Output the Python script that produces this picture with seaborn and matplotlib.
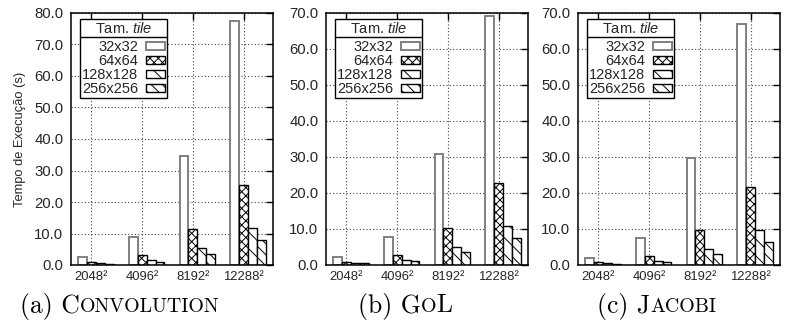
import matplotlib
matplotlib.use("Agg")
import matplotlib.pyplot as plt
import seaborn as sns
import pandas as pd
import numpy as np
from matplotlib.patches import Patch
from matplotlib.lines import Line2D
from matplotlib.ticker import FormatStrFormatter
from matplotlib.offsetbox import TextArea, HPacker, AnnotationBbox

# Data
sizes = ["2048²", "4096²", "8192²", "12288²"]
tiles = ["32x32", "64x64", "128x128", "256x256"]

conv_32 = [2.4, 8.8, 34.6, 77.5]
conv_64 = [1.0, 3.1, 11.5, 25.5]
conv_128 = [0.7, 1.5, 5.3, 11.6]
conv_256 = [0.4, 1.1, 3.6, 7.9]

gol_32 = [2.1, 7.8, 30.9, 69.2]
gol_64 = [0.8, 2.7, 10.3, 22.8]
gol_128 = [0.6, 1.4, 4.9, 10.8]
gol_256 = [0.5, 1.0, 3.5, 7.4]

jac_32 = [2.0, 7.6, 29.8, 66.9]
jac_64 = [0.75, 2.5, 9.8, 21.6]
jac_128 = [0.55, 1.2, 4.4, 9.7]
jac_256 = [0.4, 0.95, 3.1, 6.4]

panels = ["Convolution", "GoL", "Jacobi"]
ymax = [80, 70, 70]

series = {
    "Convolution": [conv_32, conv_64, conv_128, conv_256],
    "GoL": [gol_32, gol_64, gol_128, gol_256],
    "Jacobi": [jac_32, jac_64, jac_128, jac_256],
}

rows = []
for p in panels:
    for tile, vals in zip(tiles, series[p]):
        for s, v in zip(sizes, vals):
            rows.append({"panel": p, "size": s, "tile": tile, "time": v})
df = pd.DataFrame(rows)

# styles for each tile size
hatches = ["", "xxxx", "\\\\", "\\\\\\"]
edges = ["#808080", "black", "black", "black"]
edge_lw = [1.4, 1.0, 1.0, 1.0]

sns.set_style("white")
plt.rcParams["font.family"] = ["Liberation Sans", "DejaVu Sans"]
plt.rcParams["mathtext.fontset"] = "custom"
plt.rcParams["mathtext.it"] = "Liberation Sans:italic"
plt.rcParams["mathtext.rm"] = "Liberation Sans"
plt.rcParams["hatch.linewidth"] = 0.7

fig = plt.figure(figsize=(7.85, 3.23), dpi=100)
lefts = [71, 326, 578]
ax_w = 202
bottom = 58 / 323
height = 252 / 323

bar_group = 0.7
bar_w = bar_group / len(tiles)

axes = []
for i, p in enumerate(panels):
    ax = fig.add_axes([lefts[i] / 785, bottom, ax_w / 785, height])
    axes.append(ax)
    sub = df[df["panel"] == p]
    sns.barplot(data=sub, x="size", y="time", hue="tile", order=sizes,
                hue_order=tiles, width=bar_group,
                palette=["white"] * 4, legend=False, ax=ax, errorbar=None,
                saturation=1)
    for j, cont in enumerate(ax.containers):
        for bar in cont:
            bar.set_hatch(hatches[j])
            bar.set_edgecolor(edges[j])
            bar.set_linewidth(edge_lw[j])
            bar.set_facecolor("white")
    ax.set_xlim(-0.49, 3.49)
    ax.set_ylim(0, ymax[i])
    ax.set_yticks(np.arange(0, ymax[i] + 1, 10))
    ax.yaxis.set_major_formatter(FormatStrFormatter("%.1f"))
    ax.set_xticks(np.arange(len(sizes)) - bar_w / 2, labels=sizes)
    ax.grid(True, linestyle=(0, (1, 2)), color="#444444", linewidth=0.8)
    ax.set_axisbelow(True)
    ax.tick_params(axis="both", direction="in", top=True, right=True,
                   length=5, width=1.0, color="black")
    ax.tick_params(axis="y", labelsize=10.7, pad=5.5)
    ax.tick_params(axis="x", labelsize=9.4, pad=4.5)
    for sp in ax.spines.values():
        sp.set_visible(True)
        sp.set_color("black")
        sp.set_linewidth(1.1)
    ax.set_xlabel("")
    ax.set_ylabel("")

    handles = [Patch(facecolor="white", edgecolor=edges[j], hatch=hatches[j],
                     linewidth=edge_lw[j]) for j in range(len(tiles))]
    leg = ax.legend(handles, tiles, title="Tam. $\\mathit{tile}$",
                    loc="upper left", bbox_to_anchor=(0.045, 0.977),
                    borderaxespad=0, markerfirst=False, fancybox=False,
                    edgecolor="black", framealpha=1, fontsize=10.5,
                    title_fontsize=10.5, labelspacing=0.0, borderpad=0.15,
                    handlelength=1.25, handleheight=0.5, handletextpad=0.55)
    leg.get_frame().set_linewidth(1.0)
    # a bit of room between the title and the entries
    leg._legend_box.sep = 3

axes[0].set_ylabel("Tempo de Execução (s)", fontsize=9.3, labelpad=6)

# separator line under each legend title
fig.canvas.draw()
inv = fig.transFigure.inverted()
for ax in axes:
    leg = ax.get_legend()
    fr = leg.get_frame().get_window_extent()
    tb = leg._legend_title_box.get_window_extent()
    hb = leg._legend_handle_box.get_window_extent()
    y = (tb.y0 + hb.y1) / 2 + 1
    (x0, yy), (x1, _) = inv.transform([(fr.x0, y), (fr.x1, y)])
    fig.add_artist(Line2D([x0, x1], [yy, yy], color="black", linewidth=1.0,
                          transform=fig.transFigure))

# subfigure captions with small caps
def caption(xc, parts):
    boxes = [TextArea(t, textprops=dict(fontfamily="cmr10", fontsize=s,
                                        color="black")) for t, s in parts]
    pack = HPacker(children=boxes, align="baseline", pad=0, sep=0)
    ab = AnnotationBbox(pack, (xc / 785, 17 / 323), xycoords="figure fraction",
                        frameon=False, box_alignment=(0.5, 0.5))
    fig.add_artist(ab)

big, small = 18.5, 14.3
caption(120, [("(a) C", big), ("ONVOLUTION", small)])
caption(405, [("(b) G", big), ("O", small), ("L", big)])
caption(657, [("(c) J", big), ("ACOBI", small)])

fig.savefig("out.png", dpi=100)
